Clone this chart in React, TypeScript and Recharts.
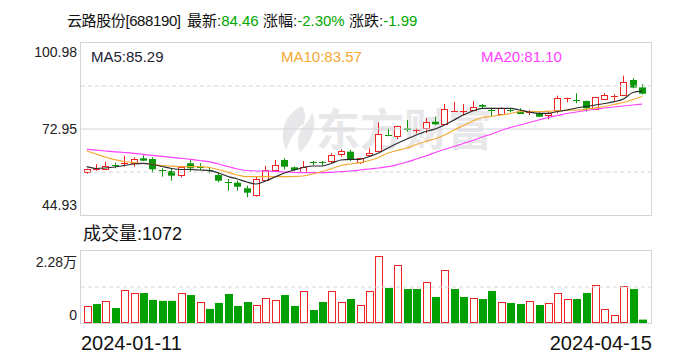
import React from 'react';
import { ComposedChart, Bar, Line, XAxis, YAxis, ReferenceLine } from 'recharts';

// 60 trading days shown on the chart
const dates = [
  '2024-01-11', '2024-01-12', '2024-01-15', '2024-01-16', '2024-01-17', '2024-01-18', '2024-01-19', '2024-01-22', '2024-01-23', '2024-01-24',
  '2024-01-25', '2024-01-26', '2024-01-29', '2024-01-30', '2024-01-31', '2024-02-01', '2024-02-02', '2024-02-05', '2024-02-06', '2024-02-07',
  '2024-02-08', '2024-02-19', '2024-02-20', '2024-02-21', '2024-02-22', '2024-02-23', '2024-02-26', '2024-02-27', '2024-02-28', '2024-02-29',
  '2024-03-01', '2024-03-04', '2024-03-05', '2024-03-06', '2024-03-07', '2024-03-08', '2024-03-11', '2024-03-12', '2024-03-13', '2024-03-14',
  '2024-03-15', '2024-03-18', '2024-03-19', '2024-03-20', '2024-03-21', '2024-03-22', '2024-03-25', '2024-03-26', '2024-03-27', '2024-03-28',
  '2024-03-29', '2024-04-01', '2024-04-02', '2024-04-03', '2024-04-08', '2024-04-09', '2024-04-10', '2024-04-11', '2024-04-12', '2024-04-15',
];

const open = [
  58.71, 59.82, 60.02, 61.22, 61.45, 61.97, 63.41, 63.18, 59.69, 59.27,
  58.06, 61.78, 60.57, 59.5, 57.97, 55.68, 55.46, 53.63, 51.35, 56.34,
  59.59, 62.85, 60.47, 59.04, 62.07, 62.04, 62.53, 64.71, 65.56, 61.97,
  64.25, 65.79, 71.0, 70.67, 73.18, 72.72, 73.18, 75.33, 74.49, 78.98,
  78.92, 79.15, 80.78, 79.24, 78.07, 79.02, 78.59, 78.3, 78.07, 77.29,
  78.92, 82.63, 82.5, 82.08, 79.47, 82.73, 83.61, 83.81, 88.92, 86.5,
];
const high = [
  60.02, 61.55, 62.3, 61.97, 64.25, 63.73, 64.38, 63.73, 60.15, 60.15,
  61.0, 63.18, 61.78, 60.67, 58.84, 56.66, 56.11, 54.48, 57.41, 60.9,
  62.85, 63.41, 60.67, 62.53, 62.53, 62.53, 65.04, 66.34, 66.11, 63.5,
  66.67, 75.14, 73.18, 74.0, 75.89, 73.18, 76.44, 76.96, 81.1, 81.85,
  81.1, 82.08, 81.1, 79.9, 80.0, 79.7, 79.7, 79.15, 78.4, 78.92,
  83.81, 83.15, 84.59, 82.2, 83.35, 84.59, 84.26, 90.32, 89.48, 87.62,
];
const low = [
  58.39, 59.37, 59.9, 60.15, 60.67, 60.67, 62.55, 58.71, 57.41, 56.11,
  57.22, 59.04, 59.59, 58.52, 55.59, 52.85, 52.85, 50.7, 50.89, 56.11,
  59.04, 59.82, 59.27, 58.8, 61.22, 61.0, 61.78, 63.93, 62.53, 61.55,
  63.93, 65.6, 70.6, 69.6, 72.08, 71.55, 71.55, 74.26, 74.3, 78.59,
  77.52, 78.82, 79.8, 77.19, 77.75, 78.4, 77.8, 77.52, 76.9, 76.12,
  78.07, 81.66, 81.33, 78.59, 79.4, 82.41, 82.18, 83.7, 86.2, 84.2,
];
const close = [
  59.82, 59.82, 61.0, 61.03, 61.78, 63.18, 62.62, 59.82, 59.5, 57.74,
  60.67, 60.15, 60.34, 59.27, 56.11, 55.49, 54.15, 52.2, 56.56, 59.59,
  61.22, 60.67, 59.59, 60.67, 61.88, 61.88, 64.48, 65.79, 62.85, 63.41,
  65.04, 71.33, 70.67, 73.93, 72.63, 72.72, 75.14, 74.49, 79.37, 78.98,
  78.92, 80.22, 80.22, 79.05, 79.9, 78.82, 77.84, 78.49, 76.96, 78.07,
  82.96, 82.96, 82.31, 79.7, 83.29, 84.03, 83.81, 88.17, 86.45, 84.46,
];

// 成交量 (手)
const volume = [
  5400, 6000, 7000, 4750, 10350, 9500, 9500, 7300, 7000, 7000,
  9500, 8850, 6650, 4450, 6350, 9200, 5400, 6650, 5700, 7900,
  7300, 8850, 5400, 10150, 4100, 6650, 10150, 6650, 7600, 5700,
  10050, 21100, 11100, 18250, 10750, 10750, 12900, 8250, 16700, 10750,
  8250, 7900, 7600, 10150, 6650, 6350, 6000, 7000, 5700, 6350,
  9500, 7600, 7600, 9500, 12050, 4450, 2550, 11700, 10750, 1072,
];
// volume bar colour: true = 红 (up), false = 绿 (down)
const volumeUp = [
  true, false, true, false, true, true, false, false, false, false,
  true, false, true, false, false, false, false, false, true, true,
  true, false, false, true, false, false, true, true, false, true,
  true, true, false, true, false, false, true, false, true, false,
  false, true, false, false, true, false, false, true, false, true,
  true, true, false, false, true, true, true, true, false, false,
];

const ma5 = [
  60.67, 60.08, 60.24, 60.57, 61.06, 61.55, 61.78, 61.39, 60.73, 60.08,
  59.76, 59.76, 59.59, 59.37, 58.62, 57.47, 56.66, 55.68, 55.03, 56.01,
  57.31, 58.62, 59.59, 60.41, 60.9, 60.9, 61.78, 62.85, 63.08, 63.08,
  63.99, 65.13, 66.76, 68.29, 69.69, 71.0, 72.14, 72.95, 74.26, 75.89,
  77.51, 78.82, 79.7, 79.7, 79.7, 79.7, 79.14, 78.49, 78.07, 78.07,
  78.66, 79.14, 79.8, 80.28, 80.77, 81.26, 81.85, 82.73, 84.85, 85.29,
];
const ma10 = [
  65.78, 64.81, 63.83, 62.95, 62.36, 61.97, 61.71, 61.45, 61.06, 60.83,
  60.67, 60.67, 60.67, 60.41, 59.75, 58.84, 57.96, 57.41, 57.41, 57.41,
  57.41, 57.41, 57.47, 57.64, 58.29, 59.1, 60.08, 61.06, 61.55, 61.97,
  62.69, 63.67, 65.13, 65.95, 66.76, 67.9, 68.88, 69.76, 71.0, 72.63,
  74.09, 75.56, 76.7, 77.03, 77.51, 78.0, 78.59, 78.59, 78.59, 78.72,
  78.92, 79.05, 79.14, 79.37, 79.8, 80.28, 80.94, 81.59, 82.57, 83.57,
];
const ma20 = [
  66.34, 66.04, 65.78, 65.52, 65.29, 65.03, 64.68, 64.35, 64.02, 63.7,
  63.4, 63.08, 62.69, 62.3, 61.55, 60.73, 59.92, 59.43, 59.27, 59.27,
  59.17, 58.94, 58.78, 58.71, 58.71, 58.71, 58.84, 59.04, 59.27, 59.59,
  59.92, 60.24, 60.67, 61.38, 62.2, 63.18, 64.15, 65.29, 66.34, 67.25,
  68.23, 69.21, 70.35, 71.32, 72.46, 73.44, 74.26, 75.07, 75.89, 76.7,
  77.35, 78.0, 78.49, 78.98, 79.47, 79.8, 80.12, 80.45, 80.77, 81.1,
];

const priceMin = 44.93;
const priceMax = 100.98;
const priceMid = 72.95;
const priceDashed = [58.94, 86.97];
const volMax = 22800;

const RED = '#f02222';
const GREEN = '#0a980a';
const TEXT_GREEN = '#00a800';
const FONT = "'Liberation Sans', 'Noto Sans CJK SC', sans-serif";

const rows = dates.map((date, i) => ({
  date,
  o: open[i],
  h: high[i],
  l: low[i],
  c: close[i],
  vol: volume[i],
  volUp: volumeUp[i],
  ma5: ma5[i],
  ma10: ma10[i],
  ma20: ma20[i],
}));

const Candle = (props: any) => {
  const { x, y, width, height, payload } = props;
  const d = payload;
  if (!d || x == null) return null;
  const c0 = Math.round(x + width / 2);
  const cx = c0 + 0.5;
  const span = d.h - d.l;
  const py = (v: number) => (span > 0 ? y + ((d.h - v) / span) * height : y);
  const up = d.c >= d.o;
  const color = up ? RED : GREEN;
  const top = py(Math.max(d.o, d.c));
  const bot = py(Math.min(d.o, d.c));
  const flat = bot - top < 1.2;
  return (
    <g>
      <line x1={cx} x2={cx} y1={y} y2={y + height} stroke={color} strokeWidth={1} />
      {flat ? (
        <line x1={c0 - 3} x2={c0 + 4} y1={Math.round(top) + 0.5} y2={Math.round(top) + 0.5} stroke={color} strokeWidth={1} />
      ) : up ? (
        <rect x={c0 - 2.5} y={Math.round(top) + 0.5} width={6} height={Math.max(1, Math.round(bot - top))} fill="#fff" stroke={color} strokeWidth={1} />
      ) : (
        <rect x={c0 - 3} y={top} width={7} height={bot - top} fill={color} />
      )}
    </g>
  );
};

const VolBar = (props: any) => {
  const { x, y, width, height, payload } = props;
  if (!payload || x == null) return null;
  const c0 = Math.round(x + width / 2);
  if (payload.volUp) {
    return (
      <rect x={c0 - 2.5} y={Math.round(y) + 0.5} width={7} height={Math.max(1, Math.round(height) - 1)} fill="#fff" stroke={RED} strokeWidth={1} />
    );
  }
  return <rect x={c0 - 3} y={y} width={8} height={height} fill="#00a000" />;
};

const abs = (style: React.CSSProperties): React.CSSProperties => ({
  position: 'absolute',
  whiteSpace: 'nowrap',
  fontFamily: FONT,
  lineHeight: 1,
  ...style,
});

const last = rows.length - 1;

export default function App() {
  return (
    <div style={{ position: 'relative', width: 688, height: 360, background: '#fff', overflow: 'hidden' }}>
      <style>{'body{margin:0}'}</style>

      {/* title */}
      <div style={abs({ left: 67, top: 13, fontSize: 15, color: '#111', letterSpacing: -0.4 })}>云路股份[688190]</div>
      <div style={abs({ left: 187, top: 13, fontSize: 15, color: '#111' })}>
        最新:<span style={{ color: TEXT_GREEN }}>{close[last].toFixed(2)}</span>
      </div>
      <div style={abs({ left: 263, top: 13, fontSize: 15, color: '#111' })}>
        涨幅:<span style={{ color: TEXT_GREEN }}>-2.30%</span>
      </div>
      <div style={abs({ left: 349, top: 13, fontSize: 15, color: '#111' })}>
        涨跌:<span style={{ color: TEXT_GREEN }}>-1.99</span>
      </div>

      {/* watermark: logo swoosh + 东方财富 */}
      <svg style={{ position: 'absolute', left: 272, top: 104 }} width={48} height={50}>
        <path d="M30 2 C14 10 6 26 14 46 C18 36 22 26 34 18 C26 28 24 38 28 48 C40 38 46 22 40 8 C38 16 34 20 30 24 C34 16 34 8 30 2 Z" fill="#e8e8ea" />
      </svg>
      <div style={abs({ left: 316, top: 105, fontSize: 44, fontWeight: 700, color: '#e8e8ea', fontFamily: "'Noto Sans CJK SC', sans-serif" })}>
        东方财富
      </div>

      {/* price axis labels */}
      <div style={abs({ right: 688 - 77, top: 45, fontSize: 14, color: '#222' })}>{priceMax.toFixed(2)}</div>
      <div style={abs({ right: 688 - 77, top: 122, fontSize: 14, color: '#222' })}>{priceMid.toFixed(2)}</div>
      <div style={abs({ right: 688 - 77, top: 198, fontSize: 14, color: '#222' })}>{priceMin.toFixed(2)}</div>

      {/* price panel */}
      <div style={{ position: 'absolute', left: 0, top: 0 }}>
        <ComposedChart width={688} height={230} data={rows} margin={{ top: 43, right: 36, bottom: 15, left: 81 }} barCategoryGap={0}>
          <XAxis dataKey="date" hide padding={{ left: 1, right: 5 }} />
          <YAxis hide domain={[priceMin, priceMax]} allowDataOverflow />
          {priceDashed.map((v) => (
            <ReferenceLine key={v} y={v} stroke="#d6d6d6" strokeDasharray="4 3" />
          ))}
          <ReferenceLine y={priceMid} stroke="#d4d4dc" />
          <Bar dataKey={(d: any) => [d.l, d.h]} shape={<Candle />} isAnimationActive={false} />
          <Line dataKey="ma20" type="monotone" stroke="#ff40ff" strokeWidth={1.2} dot={false} isAnimationActive={false} />
          <Line dataKey="ma10" type="monotone" stroke="#f5a833" strokeWidth={1.2} dot={false} isAnimationActive={false} />
          <Line dataKey="ma5" type="monotone" stroke="#2b2b2b" strokeWidth={1.2} dot={false} isAnimationActive={false} />
        </ComposedChart>
      </div>
      <div style={{ position: 'absolute', left: 80, top: 42, width: 572, height: 174, border: '1px solid #d3d3db', boxSizing: 'border-box', pointerEvents: 'none' }} />

      {/* MA legend */}
      <div style={abs({ left: 91, top: 49, fontSize: 15, color: '#1c2233' })}>MA5:{ma5[last].toFixed(2)}</div>
      <div style={abs({ left: 281, top: 49, fontSize: 15, color: '#f5a833' })}>MA10:{ma10[last].toFixed(2)}</div>
      <div style={abs({ left: 481, top: 49, fontSize: 15, color: '#ff40ff' })}>MA20:{ma20[last].toFixed(2)}</div>

      {/* volume header */}
      <div style={abs({ left: 83, top: 225, fontSize: 18, color: '#111' })}>成交量:{volume[last]}</div>
      <div style={abs({ right: 688 - 77, top: 255, fontSize: 14, color: '#222' })}>2.28万</div>
      <div style={abs({ right: 688 - 77, top: 308, fontSize: 14, color: '#222' })}>0</div>

      {/* volume panel */}
      <div style={{ position: 'absolute', left: 0, top: 230 }}>
        <ComposedChart width={688} height={130} data={rows} margin={{ top: 21, right: 36, bottom: 37, left: 81 }} barCategoryGap={0}>
          <XAxis dataKey="date" hide padding={{ left: 1, right: 5 }} />
          <YAxis hide domain={[0, volMax]} allowDataOverflow />
          <ReferenceLine y={volMax / 2} stroke="#d6d6d6" strokeDasharray="4 3" />
          <Bar dataKey="vol" shape={<VolBar />} isAnimationActive={false} />
        </ComposedChart>
      </div>
      <div style={{ position: 'absolute', left: 80, top: 250, width: 572, height: 74, border: '1px solid #d3d3db', boxSizing: 'border-box', pointerEvents: 'none' }} />

      {/* dates */}
      <div style={abs({ left: 81, top: 333, fontSize: 20, color: '#111' })}>{dates[0]}</div>
      <div style={abs({ right: 688 - 652, top: 333, fontSize: 20, color: '#111' })}>{dates[last]}</div>
    </div>
  );
}
